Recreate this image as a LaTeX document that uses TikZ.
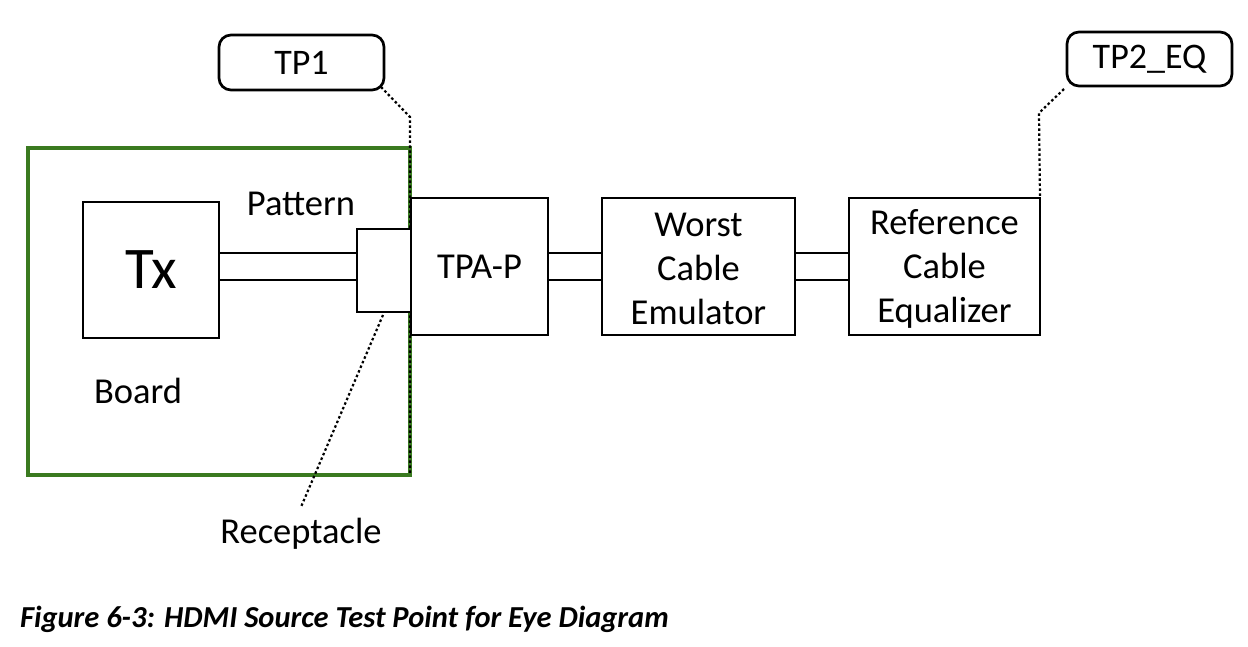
\documentclass[tikz,border=0pt]{standalone}
\usepackage{fontspec}
\setmainfont{Carlito}
\usetikzlibrary{calc}
\definecolor{boardgreen}{RGB}{58,122,32}
\begin{document}
\begin{tikzpicture}[x=1pt,y=-1pt,
  every node/.style={inner sep=0pt,outer sep=0pt},
  blk/.style={draw=black,line width=2.7pt,fill=white,align=center,
    font=\fontsize{36.5}{44}\selectfont},
  tpbox/.style={draw=black,line width=2.7pt,rounded corners=12pt,
    font=\fontsize{36}{40}\selectfont},
  lbl/.style={font=\fontsize{36.5}{40}\selectfont},
  wire/.style={draw=black,line width=2.7pt},
  leader/.style={draw=black,line width=2.2pt,dash pattern=on 2.5pt off 2.5pt}]
\useasboundingbox (0,0) rectangle (1248,646);
% board
\node[draw=boardgreen,line width=3.2pt,minimum width=382pt,minimum height=327pt] (board) at (219,311.5) {};
% leaders TP1
\node[tpbox,minimum width=165pt,minimum height=55pt] (tp1) at (301.5,62.5) {TP1};
\coordinate (c1) at (381,87);
\coordinate (k1) at (410,117);
\coordinate (e1) at (410,475);
\draw[leader] (c1) -- (k1) -- (e1);
% blocks
\node[blk,minimum width=136pt,minimum height=136pt,font=\fontsize{59}{64}\selectfont] (tx) at (151,270) {Tx};
\node[blk,minimum width=54pt,minimum height=83pt] (rec) at (384,270.5) {};
\node[blk,minimum width=137pt,minimum height=137pt] (tpa) at (479.5,266.5) {TPA-P};
\node[blk,minimum width=193pt,minimum height=137pt] (worst) at (698.5,266.5) {\rule{0pt}{29pt}Worst\\Cable\\Emulator};
\node[blk,minimum width=191pt,minimum height=137pt] (ref) at (944.5,266.5) {\rule{0pt}{30pt}Reference\\Cable\\Equalizer};
% wires
\coordinate (ya) at (0,253);
\coordinate (yb) at (0,280);
\draw[wire] (tx.east |- ya) -- (rec.west |- ya);
\draw[wire] (tx.east |- yb) -- (rec.west |- yb);
\draw[wire] (tpa.east |- ya) -- (worst.west |- ya);
\draw[wire] (tpa.east |- yb) -- (worst.west |- yb);
\draw[wire] (worst.east |- ya) -- (ref.west |- ya);
\draw[wire] (worst.east |- yb) -- (ref.west |- yb);
% TP2
\node[tpbox,minimum width=165pt,minimum height=54pt] (tp2) at (1149.5,59) {TP2\_EQ};
\coordinate (c2) at (1064,89);
\coordinate (k2) at (1039,113);
\draw[leader] (c2) -- (k2) -- (ref.north east);
% labels
\node[lbl] (pattern) at (301,204) {Pattern};
\node[lbl] (boardlbl) at (138,391) {Board};
\node[lbl] (receptacle) at (301,534) {Receptacle};
\coordinate (c3) at (383,315);
\coordinate (e3) at (301,507);
\draw[leader] (c3) -- (e3);
% caption
\node[anchor=base west,font=\fontsize{30.5}{34}\selectfont\bfseries\itshape] (cap) at (20,627) {Figure 6-3: HDMI Source Test Point for Eye Diagram};
\end{tikzpicture}
\end{document}
